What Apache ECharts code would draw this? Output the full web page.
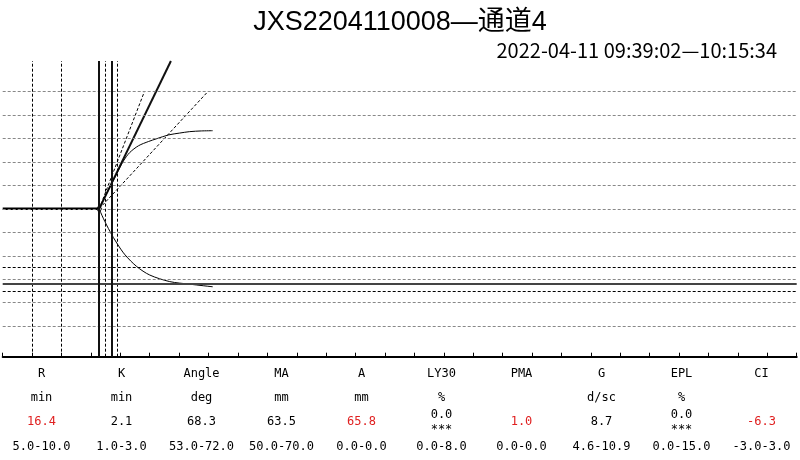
<!DOCTYPE html>
<html><head><meta charset="utf-8">
<script src="https://cdn.jsdelivr.net/npm/echarts@6/dist/echarts.min.js"></script>
<style>html,body{margin:0;padding:0;background:#fff}#c{width:800px;height:460px}</style>
</head><body><div id="c"></div>
<script>
// ---- text ----
const titleText = 'JXS2204110008—通道4';
const subText = '2022-04-11 09:39:02—10:15:34';
// ---- parameter table ----
const paramNames = ['R','K','Angle','MA','A','LY30','PMA','G','EPL','CI'];
const paramUnits = ['min','min','deg','mm','mm','%','','d/sc','%',''];
const paramValues = ['16.4','2.1','68.3','63.5','65.8','0.0\n***','1.0','8.7','0.0\n***','-6.3'];
const paramAbnormal = [true,false,false,false,true,false,true,false,false,true];
const paramRanges = ['5.0-10.0','1.0-3.0','53.0-72.0','50.0-70.0','0.0-0.0','0.0-8.0','0.0-0.0','4.6-10.9','0.0-15.0','-3.0-3.0'];
// ---- trace values (time in min, half amplitude in mm) ----
const R = 16.4, K = 2.1, MA = 63.5;
const rNormal = [5, 10];
const kNormalLines = [17.4, 19.4];
const maNormalHalf = [-25, -35];
const gridLevels = [-50,-40,-30,-20,-10,0,10,20,30,40,50];
const baseline = [[0,0],[16.4,0]];
const upperCurve = [[16.4,0],[17.4,5.2],[18.5,10.6],[19.4,15.0],[20.5,20.3],[21.6,24.0],[23.1,26.9],[24.8,28.7],[26.2,29.9],[28.2,31.5],[30.1,32.3],[31.8,32.9],[33.8,33.2],[35.7,33.3]];
const lowerCurve = [[16.4,0],[17.1,-4.0],[18.25,-9.7],[19.4,-14.6],[20.8,-19.6],[22.8,-24.6],[25.0,-28.2],[28.4,-31.0],[31.8,-32.1],[35.7,-33.2]];
const angleLine = [[16.4,0],[28.6,63]];
const angleLow = [[16.4,0],[34.9,50]];
const angleHigh = [[16.4,0],[24.1,50]];
const xTicks = {min:0, max:135, step:5};

const chart = echarts.init(document.getElementById('c'));
const mono = 'DejaVu Sans Mono';
const fnt = '12px ' + mono;
const graphics = [];
paramNames.forEach((n,i)=>{
  const cx = 41.5 + 80*i;
  graphics.push({type:'text', x:cx, y:374, style:{text:n, fill:'#000', font:fnt, align:'center', verticalAlign:'middle'}});
  if (paramUnits[i]) graphics.push({type:'text', x:cx, y:398, style:{text:paramUnits[i], fill:'#000', font:fnt, align:'center', verticalAlign:'middle'}});
  graphics.push({type:'text', x:cx, y:422, style:{text:paramValues[i], fill: paramAbnormal[i]?'#e02020':'#000', font:fnt, lineHeight:15, align:'center', verticalAlign:'middle'}});
  graphics.push({type:'text', x:cx, y:447, style:{text:paramRanges[i], fill:'#000', font:fnt, align:'center', verticalAlign:'middle'}});
});

const grayDash = {color:'#888', width:1, type:[3,2]};
const blackDash = {color:'#000', width:1, type:[3,2]};
const ml = (data, style) => ({silent:true, symbol:'none', label:{show:false}, animation:false, lineStyle:style, data});

chart.setOption({
  animation:false,
  backgroundColor:'#fff',
  title:[
    {text:titleText, left:'center', top:4, textStyle:{fontSize:27, fontWeight:'normal', color:'#000', fontFamily:'Liberation Sans, Noto Sans CJK SC'}},
    {text:subText, right:18, top:35, textStyle:{fontSize:20, fontWeight:'normal', color:'#000', fontFamily:'Noto Sans CJK SC'}}
  ],
  grid:{left:2.7, right:3.3, top:61, bottom:103.3},
  xAxis:{type:'value', min:xTicks.min, max:xTicks.max, interval:xTicks.step,
    axisLine:{onZero:false, lineStyle:{color:'#000', width:2}},
    axisTick:{inside:true, length:4, lineStyle:{color:'#000', width:1}},
    axisLabel:{show:false}, splitLine:{show:false}},
  yAxis:{type:'value', min:-63, max:63, show:false, splitLine:{show:false}},
  graphic: graphics,
  series:[
    {type:'line', data:[], markLine: ml(gridLevels.map(v=>({yAxis:v})), grayDash)},
    {type:'line', data:[], markLine: ml(maNormalHalf.map(v=>({yAxis:v})), blackDash)},
    {type:'line', data:[], markLine: ml(rNormal.concat(kNormalLines).map(v=>({xAxis:v})), blackDash)},
    {type:'line', data:[], markLine: ml([{yAxis:-MA/2}], {color:'#444', width:2, type:'solid'})},
    {type:'line', data:[], markLine: ml([{xAxis:R},{xAxis:R+K}], {color:'#111', width:2, type:'solid'})},
    {type:'line', data:angleLow, showSymbol:false, lineStyle:{color:'#000', width:1, type:[3,2]}},
    {type:'line', data:angleHigh, showSymbol:false, lineStyle:{color:'#000', width:1, type:[3,2]}},
    {type:'line', data:angleLine, showSymbol:false, lineStyle:{color:'#111', width:2}},
    {type:'line', data:upperCurve, smooth:0.3, showSymbol:false, lineStyle:{color:'#000', width:1}},
    {type:'line', data:lowerCurve, smooth:0.3, showSymbol:false, lineStyle:{color:'#000', width:1}},
    {type:'line', data:baseline, showSymbol:false, lineStyle:{color:'#000', width:2.5}},
    {type:'scatter', data:[[R,0]], symbol:'diamond', symbolSize:[5,7], itemStyle:{color:'#fff', borderColor:'#000', borderWidth:1}}
  ]
});
</script></body></html>
